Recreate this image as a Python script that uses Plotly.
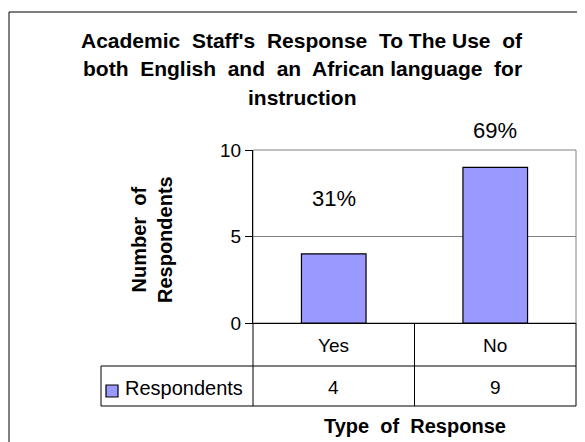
import plotly.graph_objects as go

# ---- data ----
categories = ["Yes", "No"]
respondents = [4, 9]
series_name = "Respondents"
title_lines = ["Academic\u00a0 Staff's\u00a0 Response\u00a0 To The Use\u00a0 of",
               "both\u00a0 English\u00a0 and\u00a0 an\u00a0 African language\u00a0 for",
               "instruction"]
y_title = "Number\u00a0 of<br>Respondents"
x_title = "Type\u00a0 of\u00a0 Response"
y_ticks = [0, 5, 10]

total = sum(respondents)
pct_labels = [f"{round(v / total * 100)}%" for v in respondents]

# ---- layout geometry (pixels measured on the reference) ----
OFF = 8                      # page body margin of the viewer
W, H = 585 - OFF, 442 - OFF
PL, PR, PT, PB = 253, 576, 150, 323   # plot area in reference pixels


def px(x):
    return (x - PL) / (PR - PL)


def py(y):
    return (PB - y) / (PB - PT)


FONT = "Liberation Sans, Arial, sans-serif"
BAR = "#9999FF"

fig = go.Figure()
fig.add_trace(go.Bar(
    x=categories, y=respondents, name=series_name,
    marker=dict(color=BAR, line=dict(color="black", width=1.2)),
    width=0.4, showlegend=False, hoverinfo="x+y",
))

shapes = []
# outer chart border (right/bottom fall outside the picture)
shapes.append(dict(type="rect", xref="paper", yref="paper",
                   x0=px(9), x1=px(600), y0=py(12), y1=py(470),
                   line=dict(color="black", width=1), layer="below"))
# plot area border (grey)
shapes.append(dict(type="rect", xref="paper", yref="paper",
                   x0=0, x1=1, y0=0, y1=1,
                   line=dict(color="#808080", width=1), layer="below"))

# data table lines
col_edges = [PL, (PL + PR) / 2, PR]
ROW1_B, ROW2_B, LEG_L = 366, 406, 101
for cx in col_edges:
    shapes.append(dict(type="line", xref="paper", yref="paper",
                       x0=px(cx), x1=px(cx), y0=py(PB), y1=py(ROW2_B),
                       line=dict(color="black", width=1)))
for ry in [ROW1_B, ROW2_B]:
    shapes.append(dict(type="line", xref="paper", yref="paper",
                       x0=px(LEG_L), x1=px(PR), y0=py(ry), y1=py(ry),
                       line=dict(color="black", width=1)))
shapes.append(dict(type="line", xref="paper", yref="paper",
                   x0=px(LEG_L), x1=px(LEG_L), y0=py(ROW1_B), y1=py(ROW2_B),
                   line=dict(color="black", width=1)))
# legend key
shapes.append(dict(type="rect", xref="paper", yref="paper",
                   x0=px(106), x1=px(118), y0=py(385), y1=py(397),
                   fillcolor=BAR, line=dict(color="black", width=1.2)))

ann = []
# title
for i, t in enumerate(title_lines):
    ann.append(dict(text=f"<b>{t}</b>", xref="paper", yref="paper",
                    x=px(302), y=py(40 + 29 * i), showarrow=False,
                    xanchor="center", yanchor="middle",
                    font=dict(family=FONT, size=21, color="black")))
# percentage labels
pct_y = [198, 130]
for c, lab, yy in zip(categories, pct_labels, pct_y):
    ann.append(dict(text=lab, xref="x", yref="paper", x=c, y=py(yy),
                    showarrow=False, xanchor="center", yanchor="middle",
                    font=dict(family=FONT, size=22, color="black")))
# table text
for c, v in zip(categories, respondents):
    ann.append(dict(text=c, xref="x", yref="paper", x=c, y=py(345),
                    showarrow=False, xanchor="center", yanchor="middle",
                    font=dict(family=FONT, size=19, color="black")))
    ann.append(dict(text=str(v), xref="x", yref="paper", x=c, y=py(387),
                    showarrow=False, xanchor="center", yanchor="middle",
                    font=dict(family=FONT, size=19, color="black")))
ann.append(dict(text=series_name, xref="paper", yref="paper",
                x=px(123), y=py(388), showarrow=False,
                xanchor="left", yanchor="middle",
                font=dict(family=FONT, size=20, color="black")))
# axis titles
ann.append(dict(text=f"<b>{x_title}</b>", xref="paper", yref="paper",
                x=px(415), y=py(426), showarrow=False,
                xanchor="center", yanchor="middle",
                font=dict(family=FONT, size=20, color="black")))
ann.append(dict(text=f"<b>{y_title}</b>", xref="paper", yref="paper",
                x=px(152), y=py(240), showarrow=False, textangle=-90,
                xanchor="center", yanchor="middle",
                font=dict(family=FONT, size=20, color="black")))

fig.update_layout(
    width=W, height=H,
    margin=dict(l=PL - OFF, r=W - (PR - OFF), t=PT - OFF, b=H - (PB - OFF), pad=0),
    paper_bgcolor="white", plot_bgcolor="white",
    shapes=shapes, annotations=ann,
    font=dict(family=FONT, color="black"),
    bargap=0.6,
    xaxis=dict(type="category", showticklabels=False, ticks="",
               showline=True, linecolor="black", linewidth=1,
               showgrid=False, zeroline=False, fixedrange=True),
    yaxis=dict(range=[0, 10], tickvals=y_ticks, ticks="outside",
               ticklen=7, tickcolor="black", tickwidth=1,
               showline=True, linecolor="black", linewidth=1,
               showgrid=True, gridcolor="#808080", gridwidth=1,
               zeroline=False, tickfont=dict(family=FONT, size=19),
               fixedrange=True),
)

fig.write_html("out.html")
